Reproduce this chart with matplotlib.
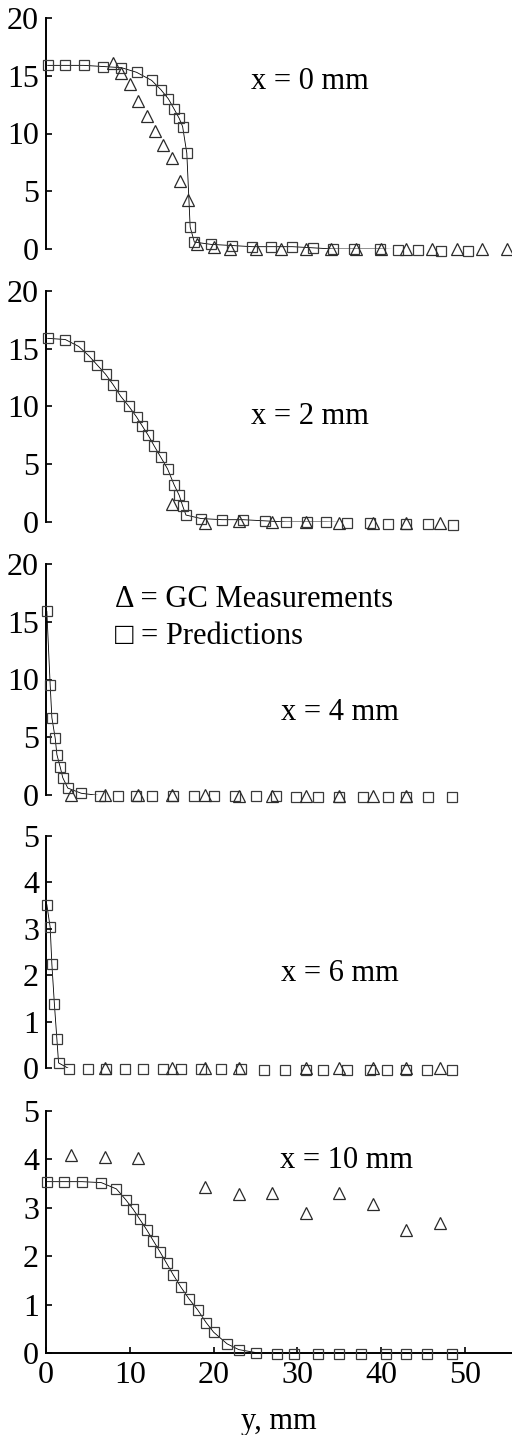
import matplotlib.pyplot as plt

plt.rcParams['font.family'] = ['Liberation Serif', 'DejaVu Serif']

# x = 0 mm
pred_x0 = [0.2, 2.3, 4.5, 6.8, 9.0, 10.8, 12.6, 13.7, 14.6, 15.3, 15.9, 16.3, 16.8, 17.2, 17.7,
           19.7, 22.2, 24.6, 26.8, 29.4, 31.9, 34.2, 36.8, 39.8, 42.0, 44.4, 47.1, 50.4]
pred_y0 = [15.9, 15.9, 15.9, 15.8, 15.7, 15.3, 14.6, 13.8, 13.0, 12.1, 11.3, 10.6, 8.3, 1.9, 0.6,
           0.4, 0.3, 0.2, 0.2, 0.2, 0.1, 0.0, 0.0, 0.0, -0.05, -0.05, -0.15, -0.2]
gc_x0 = [8, 9, 10, 11, 12, 13, 14, 15, 16, 17, 18, 20, 22, 25, 28, 31, 34, 37, 40, 43, 46, 49, 52, 55]
gc_y0 = [16.1, 15.2, 14.3, 12.8, 11.5, 10.2, 9.0, 7.9, 5.9, 4.2, 0.4, 0.2, 0.0, 0.0, 0.0, 0.0,
         0.0, 0.0, 0.0, 0.0, 0.0, 0.0, 0.0, 0.0]

# x = 2 mm
pred_x2 = [0.2, 2.3, 3.9, 5.1, 6.1, 7.1, 8.0, 8.9, 9.9, 10.8, 11.5, 12.2, 12.9, 13.7, 14.5, 15.3,
           15.9, 16.3, 16.7, 18.5, 21.0, 23.5, 26.1, 28.6, 31.1, 33.4, 35.9, 38.6, 40.8, 43.0, 45.6, 48.6]
pred_y2 = [15.9, 15.8, 15.2, 14.4, 13.6, 12.8, 11.9, 10.9, 10.0, 9.1, 8.3, 7.5, 6.6, 5.6, 4.6, 3.2,
           2.3, 1.4, 0.6, 0.3, 0.2, 0.2, 0.1, 0.0, 0.0, 0.0, -0.05, -0.1, -0.15, -0.15, -0.2, -0.25]
gc_x2 = [15, 19, 23, 27, 31, 35, 39, 43, 47]
gc_y2 = [1.6, -0.05, 0.1, 0.0, 0.0, -0.05, -0.05, -0.05, -0.05]

# x = 4 mm
pred_x4 = [0.1, 0.5, 0.7, 1.1, 1.3, 1.7, 2.0, 2.6, 4.2, 6.4, 8.6, 10.7, 12.7, 15.1, 17.6, 20.1,
           22.5, 25.1, 27.5, 29.8, 32.5, 35.0, 37.8, 40.8, 43.0, 45.6, 48.5]
pred_y4 = [15.9, 9.5, 6.7, 4.9, 3.5, 2.4, 1.5, 0.6, 0.15, -0.05, -0.05, -0.05, -0.05, -0.05, -0.05,
           -0.05, -0.05, -0.05, -0.05, -0.15, -0.15, -0.15, -0.15, -0.15, -0.15, -0.2, -0.2]
gc_x4 = [3, 7, 11, 15, 19, 23, 27, 31, 35, 39, 43]
gc_y4 = [0.0, 0.0, 0.0, 0.0, 0.0, -0.05, -0.05, -0.05, -0.1, -0.05, -0.1]

# x = 6 mm
pred_x6 = [0.1, 0.5, 0.7, 1.0, 1.3, 1.5, 2.8, 5.0, 7.2, 9.4, 11.6, 13.9, 16.1, 18.5, 20.9, 23.3,
           26.0, 28.5, 31.0, 33.1, 35.9, 38.6, 40.7, 42.9, 45.5, 48.5]
pred_y6 = [3.52, 3.03, 2.24, 1.38, 0.62, 0.11, -0.02, -0.02, -0.02, -0.02, -0.02, -0.02, -0.02,
           -0.02, -0.02, -0.02, -0.04, -0.04, -0.04, -0.04, -0.04, -0.05, -0.05, -0.05, -0.05, -0.05]
gc_x6 = [7, 15, 19, 23, 31, 35, 39, 43, 47]
gc_y6 = [0.0, 0.0, 0.0, 0.0, 0.0, 0.0, 0.0, 0.0, 0.0]

# x = 10 mm
pred_x10 = [0.1, 2.2, 4.3, 6.6, 8.4, 9.5, 10.4, 11.2, 12.0, 12.8, 13.6, 14.4, 15.2, 16.1, 17.1,
            18.1, 19.1, 20.0, 21.6, 23.0, 25.0, 27.6, 29.6, 32.5, 35.0, 37.6, 40.6, 43.0, 45.5, 48.5]
pred_y10 = [3.54, 3.54, 3.54, 3.52, 3.39, 3.17, 2.97, 2.76, 2.55, 2.32, 2.09, 1.85, 1.61, 1.36,
            1.11, 0.89, 0.63, 0.43, 0.19, 0.07, 0.01, -0.02, -0.02, -0.02, -0.02, -0.02, -0.02,
            -0.02, -0.03, -0.03]
gc_x10 = [3, 7, 11, 19, 23, 27, 31, 35, 39, 43, 47]
gc_y10 = [4.09, 4.05, 4.03, 3.43, 3.28, 3.31, 2.90, 3.30, 3.07, 2.55, 2.69]

panels = [
    (pred_x0, pred_y0, gc_x0, gc_y0, 28, 20, 'x = 0 mm'),
    (pred_x2, pred_y2, gc_x2, gc_y2, 31, 20, 'x = 2 mm'),
    (pred_x4, pred_y4, gc_x4, gc_y4, 19, 20, 'x = 4 mm'),
    (pred_x6, pred_y6, gc_x6, gc_y6, 7, 5, 'x = 6 mm'),
    (pred_x10, pred_y10, gc_x10, gc_y10, 21, 5, 'x = 10 mm'),
]
label_pos = [(31.5, 14.5), (31.5, 9.1), (35.1, 7.1), (35.1, 2.03), (35.9, 3.98)]

# axes boxes in pixels (top, bottom) on a 512x1435 canvas
boxes = [(18, 249), (291, 522), (564, 795), (836, 1068), (1111, 1353)]

fig = plt.figure(figsize=(5.12, 14.35), dpi=100)
W, H = 512.0, 1435.0
x_left = 46 / W
x_right = 512 / W

for i, (px, py, gx, gy, n_line, ymax, lab) in enumerate(panels):
    top, bot = boxes[i]
    ax = fig.add_axes([x_left, 1 - bot / H, x_right - x_left, (bot - top) / H])
    ax.plot(px[:n_line], py[:n_line], color='black', linewidth=0.6, zorder=2)
    ax.plot(px, py, linestyle='none', marker='s', markersize=7, markerfacecolor='none',
            markeredgecolor='#3a3a3a', markeredgewidth=0.9, zorder=3, clip_on=False)
    ax.plot(gx, gy, linestyle='none', marker='^', markersize=8, markerfacecolor='none',
            markeredgecolor='#2a2a2a', markeredgewidth=0.9, zorder=3, clip_on=False)
    ax.set_xlim(0, 55.6)
    ax.set_ylim(0, ymax)
    if ymax == 20:
        ax.set_yticks([0, 5, 10, 15, 20])
    else:
        ax.set_yticks([0, 1, 2, 3, 4, 5])
    ax.tick_params(axis='y', direction='in', length=4, width=1.2, labelsize=23, pad=5)
    for s in ['top', 'right']:
        ax.spines[s].set_visible(False)
    ax.spines['left'].set_linewidth(1.4)
    tx, ty = label_pos[i]
    ax.text(tx, ty, lab, fontsize=22, ha='center', va='center')
    if i < 4:
        ax.spines['bottom'].set_visible(False)
        ax.set_xticks([])
    else:
        ax.spines['bottom'].set_linewidth(1.4)
        ax.set_xticks([0, 10, 20, 30, 40, 50])
        ax.tick_params(axis='x', direction='in', length=4, width=1.2, labelsize=23, pad=6)
        ax.set_xlabel('y, mm', fontsize=22, labelpad=12)
    if i == 2:
        ax.text(8.2, 16.9, '\u0394 = GC Measurements', fontsize=22, ha='left', va='center')
        ax.text(8.2, 13.7, '\u25a1 = Predictions', fontsize=22, ha='left', va='center')

fig.savefig('out.png', dpi=100)
